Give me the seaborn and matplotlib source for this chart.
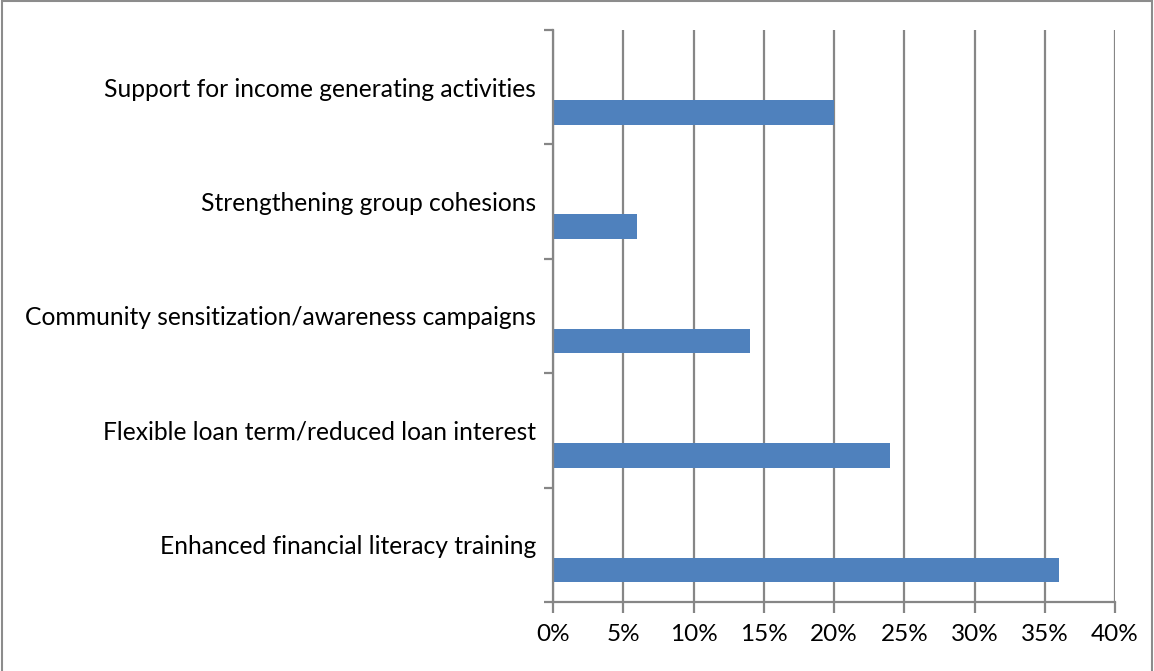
import numpy as np
import pandas as pd
import matplotlib
matplotlib.use("Agg")
import matplotlib.pyplot as plt
from matplotlib.patches import Rectangle
from matplotlib.ticker import FixedLocator, FuncFormatter
import seaborn as sns

categories = [
    "Support for income generating activities",
    "Strengthening group cohesions",
    "Community sensitization/awareness campaigns",
    "Flexible loan term/reduced loan interest",
    "Enhanced financial literacy training",
]
shares = [20, 6, 14, 24, 36]
x_ticks = [0, 5, 10, 15, 20, 25, 30, 35, 40]

BAR = "#4F81BD"
GRID = "#868686"

sns.set_theme(style="white")
plt.rcParams["font.family"] = ["Lato", "DejaVu Sans"]

fig = plt.figure(figsize=(11.54, 6.71), dpi=100)
ax = fig.add_axes([553 / 1154, 1 - 602 / 671, (1115 - 553) / 1154, (602 - 30) / 671])

# each bar sits in the lower half of its category band
pos = np.arange(len(categories))
df = pd.DataFrame({"pos": pos + 0.22, "share": shares})
sns.barplot(data=df, x="share", y="pos", orient="h", native_scale=True,
            width=0.215, color=BAR, saturation=1, linewidth=0, edgecolor="none", ax=ax)

ax.set_xlim(0, 40)
ax.set_ylim(len(categories) - 0.5, -0.5)
ax.set_xlabel("")
ax.set_ylabel("")

ax.xaxis.set_major_locator(FixedLocator(x_ticks))
ax.xaxis.set_major_formatter(FuncFormatter(lambda v, _: f"{v:.0f}%"))
ax.grid(axis="x", color=GRID, linewidth=1.6)
ax.set_axisbelow(True)

ax.set_yticks(pos)
ax.set_yticklabels(categories)
ax.set_yticks(np.arange(-0.5, len(categories)), minor=True)

ax.tick_params(axis="x", which="major", length=8, width=1.6, color=GRID,
               direction="out", bottom=True, pad=8, labelsize=17.5, labelcolor="black")
ax.tick_params(axis="y", which="major", length=0, pad=12, labelsize=17.7, labelcolor="black")
ax.tick_params(axis="y", which="minor", length=6.5, width=1.6, color=GRID,
               direction="out", left=True)

for side in ("top", "right"):
    ax.spines[side].set_visible(False)
for side in ("left", "bottom"):
    ax.spines[side].set_color(GRID)
    ax.spines[side].set_linewidth(1.6)

fig.patches.append(Rectangle((0.002, -0.01), 0.996, 1.008, transform=fig.transFigure,
                             fill=False, edgecolor="#8C8C8C", linewidth=1.5))

fig.savefig("out.png", dpi=100, facecolor="white")
